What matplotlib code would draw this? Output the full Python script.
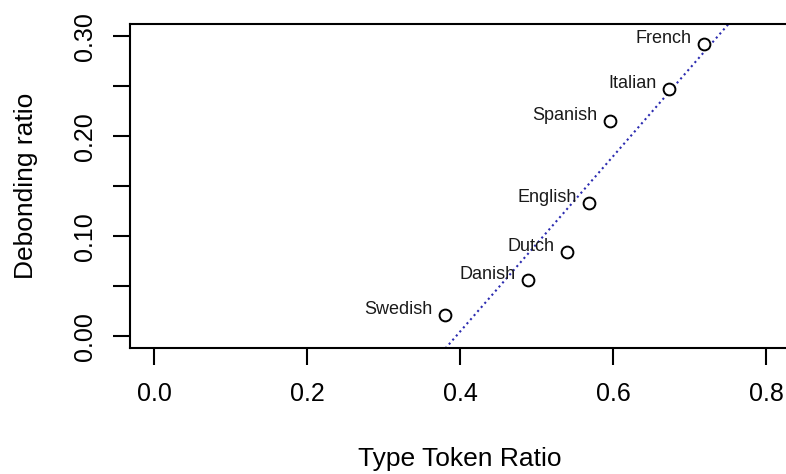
import matplotlib
matplotlib.use("Agg")
import matplotlib.pyplot as plt
import numpy as np

plt.rcParams['font.family'] = ['Liberation Sans', 'DejaVu Sans']

languages = ["French", "Italian", "Spanish", "English", "Dutch", "Danish", "Swedish"]
ttr = [0.719, 0.673, 0.596, 0.569, 0.539, 0.489, 0.380]
debonding = [0.292, 0.247, 0.215, 0.133, 0.084, 0.056, 0.021]
fit_intercept = -0.3455
fit_slope = 0.876

xticks = [0.0, 0.2, 0.4, 0.6, 0.8]
yticks = [0.00, 0.05, 0.10, 0.15, 0.20, 0.25, 0.30]

fig = plt.figure(figsize=(7.86, 4.74), dpi=100)
ax = fig.add_axes([130/786, 1-348.3/474, (790.5-130)/786, (348.3-24.3)/474])
ax.set_xlim(-0.032, 0.832)
ax.set_ylim(-0.012, 0.312)

ax.plot(ttr, debonding, linestyle='none', marker='o', markersize=8.5,
        markerfacecolor='white', markeredgecolor='black', markeredgewidth=1.4, zorder=3)

xs = np.array(ax.get_xlim())
ax.plot(xs, fit_intercept + fit_slope * xs, linestyle=(0, (1, 1.6)), color='#2b2bb0',
        linewidth=1.5, zorder=2)

for name, x, y in zip(languages, ttr, debonding):
    ax.annotate(name, (x, y), xytext=(-9, 4), textcoords='offset points',
                ha='right', va='center', fontsize=13, color='#1a1a1a')

for s in ax.spines.values():
    s.set_linewidth(1.5)

ax.set_xticks(xticks)
ax.set_xticklabels([f"{v:.1f}" for v in xticks])
ax.set_yticks(yticks)
ax.set_yticklabels([f"{v:.2f}" if round(v * 100) % 10 == 0 else "" for v in yticks],
                   rotation=90, va='center')
ax.tick_params(axis='both', direction='out', length=12, width=1.5, labelsize=18, pad=12)

ax.set_xlabel("Type Token Ratio", fontsize=19, labelpad=30)
ax.set_ylabel("Debonding ratio", fontsize=19, labelpad=25)

fig.savefig("out.png", dpi=100)
